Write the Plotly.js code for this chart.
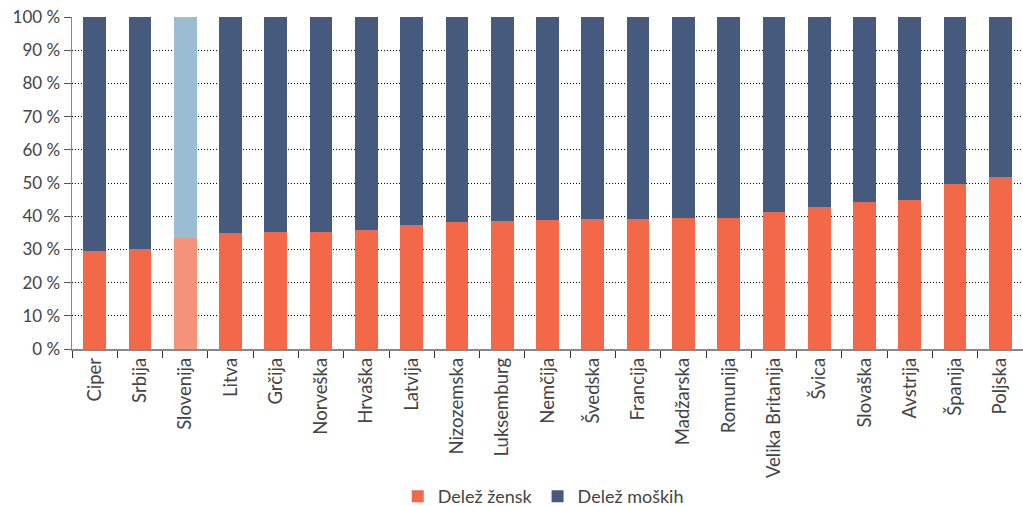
<!DOCTYPE html>
<html>
<head>
<meta charset="utf-8">
<script src="https://cdn.plot.ly/plotly-3.0.1.min.js"></script>
<style>html,body{margin:0;padding:0;background:#fff;}#chart{width:1023px;height:506px;}</style>
</head>
<body>
<div id="chart"></div>
<script>
const countries = ["Ciper","Srbija","Slovenija","Litva","Grčija","Norveška","Hrvaška","Latvija","Nizozemska","Luksemburg","Nemčija","Švedska","Francija","Madžarska","Romunija","Velika Britanija","Švica","Slovaška","Avstrija","Španija","Poljska"];
const women = [29.6,30.2,33.5,35.0,35.3,35.3,35.8,37.3,38.3,38.6,38.9,39.2,39.2,39.5,39.5,41.4,42.8,44.3,44.9,49.7,51.8];
const men = [70.4,69.8,66.5,65.0,64.7,64.7,64.2,62.7,61.7,61.4,61.1,60.8,60.8,60.5,60.5,58.6,57.2,55.7,55.1,50.3,48.2];
const yTickVals = [0,10,20,30,40,50,60,70,80,90,100];
const yTickText = ["0 %","10 %","20 %","30 %","40 %","50 %","60 %","70 %","80 %","90 %","100 %"];
const highlight = "Slovenija";

const womenColors = countries.map(c => c === highlight ? "#F4937A" : "#F26849");
const menColors = countries.map(c => c === highlight ? "#9BBDD4" : "#465A7E");

const font = "Lato, 'Open Sans', 'Noto Sans', sans-serif";

const data = [
  {type:"bar", name:"Delež žensk", x:countries, y:women, marker:{color:womenColors}, width:0.5, hoverinfo:"skip"},
  {type:"bar", name:"Delež moških", x:countries, y:men, marker:{color:menColors}, width:0.5, hoverinfo:"skip"}
];

const layout = {
  width:1023, height:506,
  margin:{l:72, r:0, t:17, b:157, pad:0, autoexpand:false},
  barmode:"stack",
  paper_bgcolor:"#fff", plot_bgcolor:"#fff",
  font:{family:font, size:17, color:"#444"},
  showlegend:true,
  legend:{orientation:"h", xref:"container", yref:"paper", x:0.531, xanchor:"center", y:-0.389, yanchor:"top", font:{size:18, color:"#444"}, traceorder:"normal", itemwidth:30},
  xaxis:{
    type:"category", tickangle:-90, tickson:"boundaries", ticks:"outside", ticklen:7, tickcolor:"#333",
    showline:true, linecolor:"#888", linewidth:1.5, showgrid:false, zeroline:false, automargin:false,
    tickfont:{family:font, size:18.5, color:"#444"}
  },
  yaxis:{
    range:[0,100], tickvals:yTickVals, ticktext:yTickText, ticks:"outside", ticklen:7, tickcolor:"#555",
    showline:true, linecolor:"#888", linewidth:1.5, automargin:false,
    showgrid:true, gridcolor:"#000", griddash:"1px,2px", gridwidth:1, zeroline:false,
    tickfont:{family:font, size:17, color:"#444"}
  }
};

Plotly.newPlot("chart", data, layout, {displayModeBar:false, staticPlot:true});
</script>
</body>
</html>
